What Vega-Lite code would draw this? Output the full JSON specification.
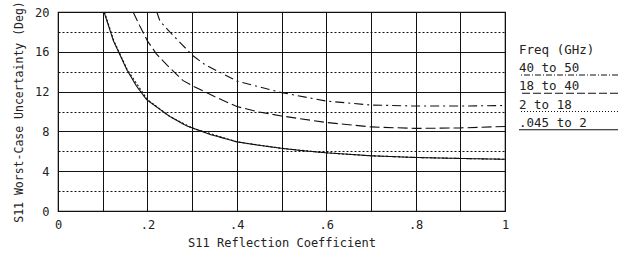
{
  "$schema": "https://vega.github.io/schema/vega-lite/v6.json",
  "background": "white",
  "padding": {"left": 12, "top": 0, "right": 0, "bottom": 0},
  "spacing": 8,
  "config": {
    "font": "DejaVu Sans Mono",
    "view": {"stroke": "#111", "strokeWidth": 1.2},
    "axis": {
      "labelFont": "DejaVu Sans Mono",
      "titleFont": "DejaVu Sans Mono",
      "labelFontSize": 12,
      "titleFontSize": 12,
      "titleFontWeight": "normal",
      "labelColor": "#222",
      "titleColor": "#222",
      "ticks": false,
      "domain": false,
      "gridColor": "#111",
      "gridOpacity": 1,
      "gridWidth": 1
    }
  },
  "datasets": {
    "curves": [
      {"series": ".045 to 2", "x": 0.103, "y": 20},
      {"series": ".045 to 2", "x": 0.124, "y": 17.1},
      {"series": ".045 to 2", "x": 0.154, "y": 14.2},
      {"series": ".045 to 2", "x": 0.175, "y": 12.6},
      {"series": ".045 to 2", "x": 0.198, "y": 11.2},
      {"series": ".045 to 2", "x": 0.25, "y": 9.5},
      {"series": ".045 to 2", "x": 0.288, "y": 8.55},
      {"series": ".045 to 2", "x": 0.34, "y": 7.7},
      {"series": ".045 to 2", "x": 0.4, "y": 6.95},
      {"series": ".045 to 2", "x": 0.45, "y": 6.6},
      {"series": ".045 to 2", "x": 0.5, "y": 6.3},
      {"series": ".045 to 2", "x": 0.55, "y": 6.05},
      {"series": ".045 to 2", "x": 0.6, "y": 5.85},
      {"series": ".045 to 2", "x": 0.7, "y": 5.55},
      {"series": ".045 to 2", "x": 0.8, "y": 5.38},
      {"series": ".045 to 2", "x": 0.9, "y": 5.28},
      {"series": ".045 to 2", "x": 1.0, "y": 5.2},
      {"series": "2 to 18", "x": 0.104, "y": 20},
      {"series": "2 to 18", "x": 0.125, "y": 17.1},
      {"series": "2 to 18", "x": 0.155, "y": 14.2},
      {"series": "2 to 18", "x": 0.2, "y": 11.2},
      {"series": "2 to 18", "x": 0.25, "y": 9.5},
      {"series": "2 to 18", "x": 0.3, "y": 8.35},
      {"series": "2 to 18", "x": 0.4, "y": 6.95},
      {"series": "2 to 18", "x": 0.5, "y": 6.3},
      {"series": "2 to 18", "x": 0.6, "y": 5.85},
      {"series": "2 to 18", "x": 0.7, "y": 5.55},
      {"series": "2 to 18", "x": 0.8, "y": 5.38},
      {"series": "2 to 18", "x": 0.9, "y": 5.28},
      {"series": "2 to 18", "x": 1.0, "y": 5.2},
      {"series": "18 to 40", "x": 0.168, "y": 20},
      {"series": "18 to 40", "x": 0.183, "y": 18.6},
      {"series": "18 to 40", "x": 0.2, "y": 17.1},
      {"series": "18 to 40", "x": 0.22, "y": 15.8},
      {"series": "18 to 40", "x": 0.243, "y": 14.7},
      {"series": "18 to 40", "x": 0.28, "y": 13.1},
      {"series": "18 to 40", "x": 0.3, "y": 12.6},
      {"series": "18 to 40", "x": 0.35, "y": 11.5},
      {"series": "18 to 40", "x": 0.4, "y": 10.5},
      {"series": "18 to 40", "x": 0.45, "y": 9.95},
      {"series": "18 to 40", "x": 0.5, "y": 9.55},
      {"series": "18 to 40", "x": 0.6, "y": 8.9},
      {"series": "18 to 40", "x": 0.7, "y": 8.45},
      {"series": "18 to 40", "x": 0.8, "y": 8.3},
      {"series": "18 to 40", "x": 0.9, "y": 8.35},
      {"series": "18 to 40", "x": 1.0, "y": 8.5},
      {"series": "40 to 50", "x": 0.221, "y": 20},
      {"series": "40 to 50", "x": 0.228, "y": 19.1},
      {"series": "40 to 50", "x": 0.25, "y": 18.0},
      {"series": "40 to 50", "x": 0.277, "y": 16.75},
      {"series": "40 to 50", "x": 0.302, "y": 15.6},
      {"series": "40 to 50", "x": 0.329, "y": 14.7},
      {"series": "40 to 50", "x": 0.4, "y": 13.07},
      {"series": "40 to 50", "x": 0.5, "y": 11.9},
      {"series": "40 to 50", "x": 0.6, "y": 11.05},
      {"series": "40 to 50", "x": 0.7, "y": 10.65},
      {"series": "40 to 50", "x": 0.8, "y": 10.55},
      {"series": "40 to 50", "x": 0.9, "y": 10.55},
      {"series": "40 to 50", "x": 1.0, "y": 10.6}
    ],
    "legendRows": [
      {"label": "Freq (GHz)", "order": 0, "series": ""},
      {"label": "40 to 50", "order": 1, "series": "40 to 50"},
      {"label": "18 to 40", "order": 2, "series": "18 to 40"},
      {"label": "2 to 18", "order": 3, "series": "2 to 18"},
      {"label": ".045 to 2", "order": 4, "series": ".045 to 2"}
    ]
  },
  "hconcat": [
    {
      "width": 447,
      "height": 199,
      "data": {"name": "curves"},
      "mark": {"type": "line", "color": "#111", "strokeWidth": 1.1, "clip": true},
      "encoding": {
        "x": {
          "field": "x",
          "type": "quantitative",
          "title": "S11 Reflection Coefficient",
          "scale": {"domain": [0, 1], "nice": false},
          "axis": {
            "values": [0, 0.1, 0.2, 0.3, 0.4, 0.5, 0.6, 0.7, 0.8, 0.9, 1],
            "labelExpr": "round(datum.value*10) % 2 == 1 ? '' : (datum.value == 0 ? '0' : (datum.value == 1 ? '1' : replace(format(datum.value, '.1f'), '0.', '.')))",
            "labelPadding": 8,
            "titlePadding": 7,
            "labelFlush": false
          }
        },
        "y": {
          "field": "y",
          "type": "quantitative",
          "title": "S11 Worst-Case Uncertainty (Deg)",
          "scale": {"domain": [0, 20], "nice": false},
          "axis": {
            "values": [0, 2, 4, 6, 8, 10, 12, 14, 16, 18, 20],
            "labelExpr": "datum.value % 4 == 0 ? format(datum.value, 'd') : ''",
            "gridDash": {"condition": {"test": "datum.value % 4 != 0", "value": [2, 2]}, "value": []},
            "labelPadding": 9,
            "titlePadding": 10,
            "titleFontSize": 11.5
          }
        },
        "detail": {"field": "series"},
        "strokeDash": {
          "field": "series",
          "type": "nominal",
          "scale": {
            "domain": ["40 to 50", "18 to 40", "2 to 18", ".045 to 2"],
            "range": [[9, 4, 2, 4], [10, 4], [2, 2], [1, 0]]
          },
          "legend": null
        }
      }
    },
    {
      "width": 99,
      "height": 199,
      "view": {"stroke": null},
      "data": {"name": "legendRows"},
      "layer": [
        {
          "mark": {"type": "text", "align": "left", "baseline": "alphabetic", "dy": -3, "fontSize": 12.5, "color": "#222", "font": "DejaVu Sans Mono"},
          "encoding": {
            "x": {"datum": 0, "type": "quantitative", "scale": {"domain": [0, 1]}, "axis": null},
            "y": {"field": "order", "type": "quantitative", "scale": {"domain": [-2.45, 8.45], "reverse": true, "nice": false, "zero": false}, "axis": null},
            "text": {"field": "label"}
          }
        },
        {
          "transform": [{"filter": "datum.series != ''"}],
          "mark": {"type": "rule", "color": "#111", "strokeWidth": 1.1},
          "encoding": {
            "y": {"field": "order", "type": "quantitative", "scale": {"domain": [-2.45, 8.45], "reverse": true, "nice": false, "zero": false}, "axis": null},
            "strokeDash": {
              "field": "series",
              "type": "nominal",
              "scale": {
                "domain": ["40 to 50", "18 to 40", "2 to 18", ".045 to 2"],
                "range": [[6, 2, 1, 2], [8, 3], [1, 2], [1, 0]]
              },
              "legend": null
            }
          }
        }
      ]
    }
  ],
  "resolve": {"scale": {"strokeDash": "independent"}}
}
